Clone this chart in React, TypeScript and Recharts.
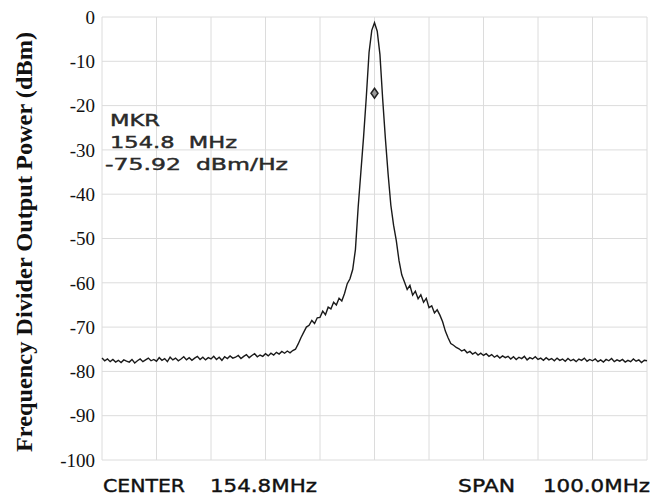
import React from 'react';
import {
  LineChart, Line, XAxis, YAxis, CartesianGrid, ReferenceDot
} from 'recharts';

// spectrum trace: -50 .. +50 MHz around centre, 0.5 MHz per bin
const POWER_DBM = [
  -77.0, -77.6, -77.2, -77.8, -77.3, -77.9, -77.5, -78.0, -77.4, -77.7,
  -77.9, -77.3, -78.1, -77.6, -77.2, -77.8, -77.4, -77.0, -77.6, -77.3,
  -77.7, -76.9, -77.5, -77.1, -77.8, -76.8, -77.4, -77.0, -77.6, -77.2,
  -76.7, -77.4, -76.9, -77.5, -77.0, -76.6, -77.3, -76.8, -77.4, -76.9,
  -77.2, -76.6, -77.3, -76.8, -77.5, -76.7, -77.1, -76.5, -77.0, -76.8,
  -76.4, -77.1, -76.6, -76.2, -76.9, -76.4, -76.0, -76.7, -76.3, -76.6,
  -76.0, -76.5, -75.9, -76.3, -75.7, -76.1, -75.5, -75.9, -75.4, -75.8,
  -75.3, -75.0, -73.8, -72.4, -71.2, -70.0, -69.6, -68.5, -69.2, -67.9,
  -67.8, -66.4, -67.2, -65.5, -65.9, -64.4, -65.0, -63.5, -64.1, -62.4,
  -60.2, -59.1, -57.0, -52.5, -43.0, -35.0, -27.0, -18.0, -8.0, -3.0,
  -1.3,
  -3.2, -8.5, -18.5, -27.5, -35.5, -42.5, -47.0, -50.5, -55.0, -58.2,
  -59.8, -61.5, -60.6, -62.8, -61.9, -63.6, -62.7, -64.4, -63.5, -65.6,
  -65.2, -66.8, -66.1, -67.3, -68.8, -70.9, -72.4, -73.7, -74.1, -74.6,
  -74.9, -75.4, -75.1, -75.8, -75.5, -76.1, -75.7, -76.3, -75.9, -76.4,
  -76.0, -76.6, -76.2, -76.8, -76.4, -77.0, -76.5, -76.9, -76.6, -77.2,
  -76.7, -77.3, -76.8, -77.1, -76.6, -77.4, -76.9, -77.2, -76.7, -77.3,
  -77.0, -77.5, -76.9, -77.4, -77.1, -77.6, -77.0, -77.5, -77.2, -77.7,
  -77.1, -77.6, -77.3, -77.8, -77.2, -77.5, -77.0, -77.7, -77.3, -77.6,
  -77.2, -77.8, -77.4, -77.9, -77.3, -77.6, -77.1, -77.8, -77.4, -77.7,
  -77.3, -77.9, -77.5, -77.8, -77.2, -77.7, -77.4, -78.0, -77.5, -77.6,
];

const SPAN_START = -50;
const BIN_MHZ = 0.5;

const X_TICKS = [-50, -40, -30, -20, -10, 0, 10, 20, 30, 40, 50];
const Y_TICKS = [0, -10, -20, -30, -40, -50, -60, -70, -80, -90, -100];

const MARKER_FREQ = 0;
const MARKER_DBM = -17.2;

const data = POWER_DBM.map((p, i) => ({ freq: SPAN_START + i * BIN_MHZ, power: p }));

const Diamond = (props: any) => {
  const { cx, cy } = props;
  return (
    <path
      d={`M${cx},${cy - 5} L${cx + 3.5},${cy} L${cx},${cy + 5} L${cx - 3.5},${cy} Z`}
      fill="#9a9a9a"
      stroke="#222"
      strokeWidth={1.5}
    />
  );
};

// x ticks only feed the grid, the analyzer shows no frequency labels
const NoTick = () => <g />;

const labelFont = '"DejaVu Sans", "Liberation Sans", sans-serif';

const App = () => {
  return (
    <div style={{ position: 'absolute', left: 0, top: 0, width: 652, height: 497, background: '#fff' }}>
      <LineChart
        width={652}
        height={497}
        data={data}
        margin={{ top: 17, right: 5, bottom: 7, left: 0 }}
      >
        <CartesianGrid stroke="#dcdcdc" strokeWidth={1} />
        <XAxis
          dataKey="freq"
          type="number"
          domain={[-50, 50]}
          ticks={X_TICKS}
          tick={NoTick}
          axisLine={false}
          tickLine={false}
          height={30}
        />
        <YAxis
          type="number"
          domain={[-100, 0]}
          ticks={Y_TICKS}
          width={102}
          axisLine={false}
          tickLine={false}
          tickSize={0}
          tickMargin={7}
          tick={{ fontFamily: '"Liberation Serif", serif', fontSize: 19, fill: '#111' }}
        />
        <Line
          type="linear"
          dataKey="power"
          stroke="#1a1a1a"
          strokeWidth={1.4}
          dot={false}
          isAnimationActive={false}
        />
        <ReferenceDot x={MARKER_FREQ} y={MARKER_DBM} r={4} shape={Diamond} ifOverflow="visible" />
      </LineChart>

      <svg
        width={652}
        height={497}
        style={{ position: 'absolute', left: 0, top: 0, pointerEvents: 'none' }}
      >
        <text
          x={32}
          y={242}
          transform="rotate(-90 32 242)"
          textAnchor="middle"
          fontFamily='"Liberation Serif", "Times New Roman", serif'
          fontWeight="bold"
          fontSize={24}
          fill="#111"
          textLength={420}
          lengthAdjust="spacingAndGlyphs"
        >
          Frequency Divider Output Power (dBm)
        </text>

        <g fontFamily={labelFont} fontSize={15} fill="#2a2a2a" stroke="#2a2a2a" strokeWidth={0.4}>
          <text x={110} y={126} textLength={50} lengthAdjust="spacingAndGlyphs">MKR</text>
          <text x={110} y={148} textLength={127} lengthAdjust="spacingAndGlyphs" xmlSpace="preserve">154.8  MHz</text>
          <text x={105} y={170} textLength={183} lengthAdjust="spacingAndGlyphs" xmlSpace="preserve">-75.92  dBm/Hz</text>
        </g>

        <g fontFamily={labelFont} fontSize={18} fill="#111" stroke="#111" strokeWidth={0.4}>
          <text x={103} y={492} textLength={82} lengthAdjust="spacingAndGlyphs">CENTER</text>
          <text x={210} y={492} textLength={107} lengthAdjust="spacingAndGlyphs">154.8MHz</text>
          <text x={458} y={492} textLength={57} lengthAdjust="spacingAndGlyphs">SPAN</text>
          <text x={543} y={492} textLength={107} lengthAdjust="spacingAndGlyphs">100.0MHz</text>
        </g>
      </svg>
    </div>
  );
};

export default App;
